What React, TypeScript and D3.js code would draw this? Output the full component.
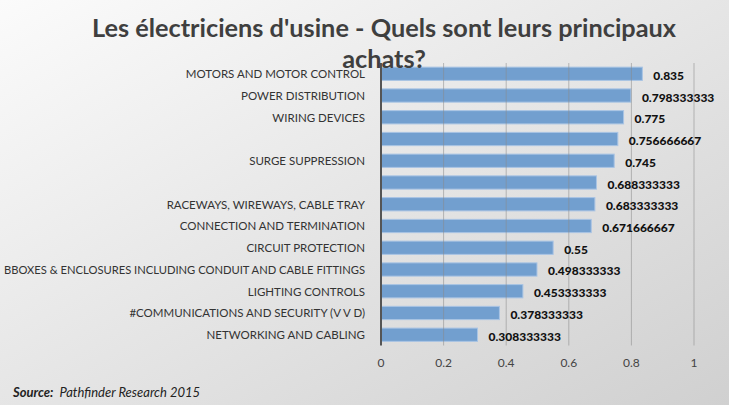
import React from "react";
import * as d3 from "d3";

const categories = [
  "MOTORS AND MOTOR CONTROL",
  "POWER DISTRIBUTION",
  "WIRING DEVICES",
  "",
  "SURGE SUPPRESSION",
  "",
  "RACEWAYS, WIREWAYS, CABLE TRAY",
  "CONNECTION AND TERMINATION",
  "CIRCUIT PROTECTION",
  "BBOXES & ENCLOSURES INCLUDING CONDUIT AND CABLE FITTINGS",
  "LIGHTING CONTROLS",
  "#COMMUNICATIONS AND SECURITY (V V D)",
  "NETWORKING AND CABLING",
];
const values = [
  0.835, 0.798333333, 0.775, 0.756666667, 0.745, 0.688333333, 0.683333333,
  0.671666667, 0.55, 0.498333333, 0.453333333, 0.378333333, 0.308333333,
];
const valueLabels = [
  "0.835", "0.798333333", "0.775", "0.756666667", "0.745", "0.688333333",
  "0.683333333", "0.671666667", "0.55", "0.498333333", "0.453333333",
  "0.378333333", "0.308333333",
];
const xTicks = [0, 0.2, 0.4, 0.6, 0.8, 1];
const titleLines = ["Les électriciens d'usine - Quels sont leurs principaux", "achats?"];

const W = 729;
const H = 405;
const FONT = "Lato, 'Open Sans', sans-serif";

export default function App() {
  const x = d3.scaleLinear().domain([0, 1]).range([381, 694]);
  const idx = categories.map((_, i) => String(i));
  const y = d3.scaleBand().domain(idx).range([63, 345.5]).paddingInner(0.39).paddingOuter(0.19);
  const bw = y.bandwidth();
  return (
    <svg width={W} height={H} style={{ position: "absolute", left: 0, top: 0 }}>
      <defs>
        <linearGradient id="bg" x1="0" y1="0" x2="1" y2="1">
          <stop offset="0" stopColor="#fbfbfb" />
          <stop offset="1" stopColor="#d0d0d0" />
        </linearGradient>
      </defs>
      <rect x={0} y={0} width={W} height={H} fill="url(#bg)" />
      {values.map((v, i) => (
        <rect
          key={"b" + i}
          x={x(0)}
          y={y(String(i))}
          width={x(v) - x(0)}
          height={bw}
          fill="#729fcf"
          stroke="#a9c4e4"
          strokeWidth={1}
        />
      ))}
      {xTicks.slice(1).map((t) => (
        <line
          key={"g" + t}
          x1={x(t)}
          x2={x(t)}
          y1={63}
          y2={345.5}
          stroke="#8a8a8a"
          strokeOpacity={0.55}
          strokeWidth={1}
        />
      ))}
      <line x1={x(0)} x2={x(0)} y1={63} y2={345.5} stroke="#555" strokeWidth={2} />
      {xTicks.map((t) => (
        <text
          key={"t" + t}
          x={x(t)}
          y={367}
          textAnchor="middle"
          fontFamily={FONT}
          fontSize={12}
          fill="#444"
        >
          {String(t)}
        </text>
      ))}
      {categories.map((c, i) => (
        <text
          key={"c" + i}
          x={365}
          y={(y(String(i)) as number) + bw / 2 + 4.5}
          textAnchor="end"
          fontFamily={FONT}
          fontSize={c.length > 45 ? 11.2 : 11.5}
          fill="#333"
        >
          {c}
        </text>
      ))}
      {values.map((v, i) => (
        <text
          key={"v" + i}
          x={x(v) + 11}
          y={(y(String(i)) as number) + bw / 2 + 6}
          fontFamily={FONT}
          fontSize={12}
          fontWeight="900"
          fill="#111"
        >
          {valueLabels[i]}
        </text>
      ))}
      {titleLines.map((t, i) => (
        <text
          key={"tt" + i}
          x={384}
          y={37 + i * 31}
          textAnchor="middle"
          fontFamily={FONT}
          fontSize={25.3}
          fontWeight="bold"
          fill="#3f3f3f"
        >
          {t}
        </text>
      ))}
      <text x={13} y={397} fontFamily={FONT} fontSize={13} fontStyle="italic" fill="#222">
        <tspan fontWeight="bold">Source:</tspan>
        <tspan dx={6}>Pathfinder Research 2015</tspan>
      </text>
    </svg>
  );
}
